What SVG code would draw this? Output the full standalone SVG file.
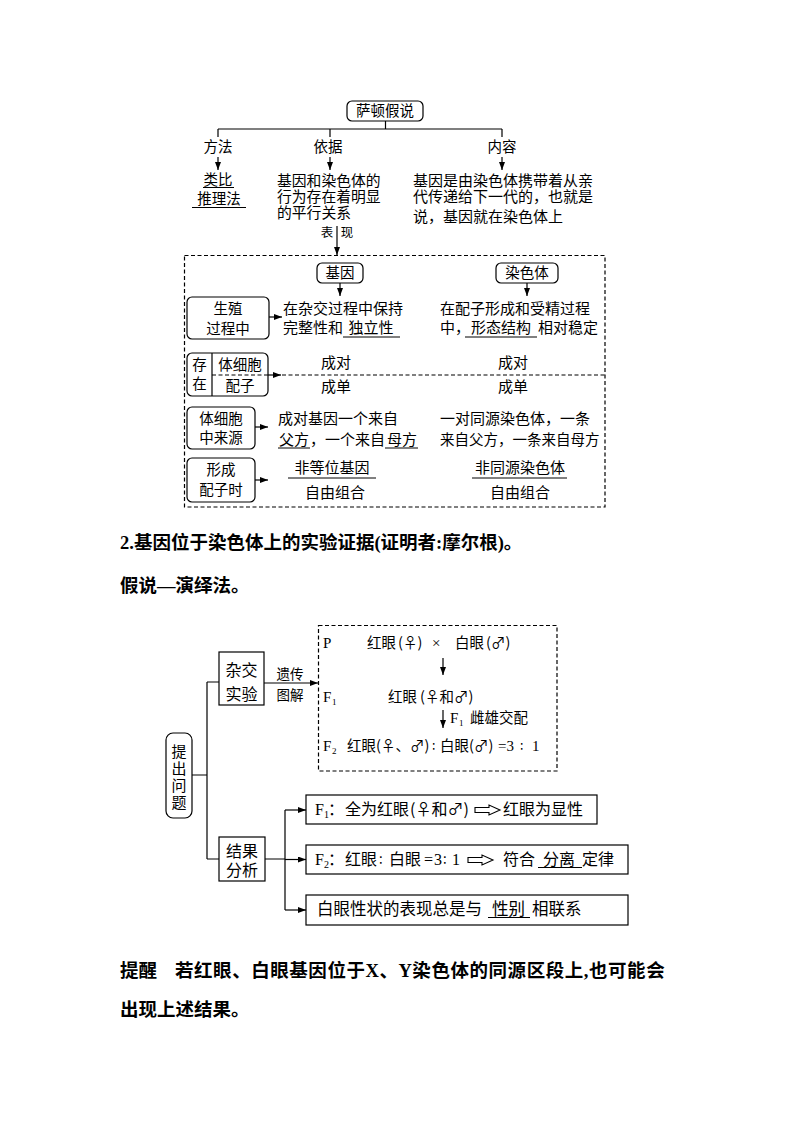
<svg xmlns="http://www.w3.org/2000/svg" width="794" height="1123" viewBox="0 0 794 1123">
<style>
text{font-family:"Noto Sans CJK SC",sans-serif;font-size:15px;fill:#000}
.m{font-family:"Liberation Serif","Noto Sans CJK SC",serif}
.r{font-family:"DejaVu Sans",sans-serif}
.lb{font-size:14.5px}
.c{text-anchor:middle}
.sm{font-size:12.5px}
.b16{font-size:16px}
.hd{font-family:"Liberation Serif","Noto Sans CJK SC",serif;font-weight:bold;font-size:18.5px}
.ln{stroke:#000;stroke-width:1.2;fill:none}
.ar{stroke:#000;stroke-width:1.2;fill:none;marker-end:url(#ah)}
.bx{fill:#fff;stroke:#000;stroke-width:1.2}
.dash{stroke-dasharray:4 2.5}
.ul{stroke:#000;stroke-width:1;fill:none}
.ha{fill:#fff;stroke:#000;stroke-width:1.1}
</style>
<defs>
<marker id="ah" markerUnits="userSpaceOnUse" markerWidth="8" markerHeight="6" refX="8" refY="3" orient="auto">
<path d="M0,0 L8,3 L0,6 Z" fill="#000"/>
</marker>
</defs>
<rect width="794" height="1123" fill="#fff"/>

<g id="connectors">
<path class="ln" d="M385.5,121 V129 M218,129 H502 M218,129 V137 M330,129 V137 M502,129 V137"/>
<path class="ar" d="M218,157 V170"/>
<path class="ar" d="M330,157 V170"/>
<path class="ar" d="M502,157 V170"/>
<path class="ar" d="M337,226 V255"/>
<path class="ar" d="M340,283 V296"/>
<path class="ar" d="M527,283 V296"/>
<path class="ar" d="M269,317 H282"/>
<path class="ar" d="M268,375 H281"/>
<path class="ln dash" d="M282,375 H605"/>
<path class="ar" d="M255,427 H268"/>
<path class="ar" d="M255,480 H268"/>
<path class="ln" d="M192,775 H207 M207,682 V859 M207,682 H219 M207,859 H219"/>
<path class="ar" d="M264,683 H318"/>
<path class="ar" d="M443,658 V675"/>
<path class="ar" d="M443,710 V728"/>
<path class="ln" d="M265,859 H285 M285,810 V910"/>
<path class="ar" d="M285,810 H306"/>
<path class="ar" d="M285,859.5 H306"/>
<path class="ar" d="M285,910 H306"/>
</g>

<g id="n-sadun">
<rect class="bx" x="347" y="101" width="76" height="20" rx="5"/>
<text class="lb c" x="385" y="116">萨顿假说</text>
</g>
<g id="n-fangfa">
<text class="lb c" x="218" y="152">方法</text>
<text class="lb c" x="218" y="185">类比</text>
<path class="ul" d="M203,187.5 H234"/>
<text class="lb c" x="219" y="204">推理法</text>
<path class="ul" d="M192,207.5 H246"/>
</g>
<g id="n-yiju">
<text class="lb c" x="328" y="152">依据</text>
<text x="277" y="186" style="font-size:14.8px">基因和染色体的</text>
<text x="277" y="202" style="font-size:14.8px">行为存在着明显</text>
<text x="277" y="218" style="font-size:14.8px">的平行关系</text>
</g>
<g id="n-neirong">
<text class="lb c" x="502" y="152">内容</text>
<text x="413" y="186">基因是由染色体携带着从亲</text>
<text x="413" y="202">代传递给下一代的，也就是</text>
<text x="413" y="222">说，基因就在染色体上</text>
</g>
<g id="n-biaoxian">
<text class="sm c" x="327" y="237">表</text>
<text class="sm c" x="347" y="237">现</text>
</g>

<g id="n-table">
<rect class="ln dash" x="184.5" y="255.5" width="420.5" height="251.5"/>
<rect class="bx" x="317" y="263" width="46" height="20" rx="5"/>
<text class="lb c" x="340" y="278">基因</text>
<rect class="bx" x="496" y="263" width="62" height="20" rx="5"/>
<text class="lb c" x="527" y="278">染色体</text>
</g>

<g id="n-row1">
<rect class="bx" x="187" y="297" width="82" height="42" rx="5"/>
<text class="lb c" x="228" y="314">生殖</text>
<text class="lb c" x="228" y="334">过程中</text>
<text x="283" y="314">在杂交过程中保持</text>
<text x="283" y="333">完整性和</text>
<text class="c" x="371" y="333">独立性</text>
<path class="ul" d="M343,337 H400"/>
<text x="440" y="314">在配子形成和受精过程</text>
<text x="440" y="333">中，</text>
<text class="c" x="501" y="333">形态结构</text>
<path class="ul" d="M465,337 H537"/>
<text x="538" y="333">相对稳定</text>
</g>

<g id="n-row2">
<rect class="bx" x="187" y="353" width="81" height="43" rx="5"/>
<path class="ln" d="M212,353 V396"/>
<path class="ln dash" d="M212,375 H268"/>
<text class="lb c" x="199.5" y="370">存</text>
<text class="lb c" x="199.5" y="389">在</text>
<text class="lb c" x="240" y="370">体细胞</text>
<text class="lb c" x="240" y="391">配子</text>
<text class="c" x="336" y="368">成对</text>
<text class="c" x="513" y="368">成对</text>
<text class="c" x="336" y="392">成单</text>
<text class="c" x="513" y="392">成单</text>
</g>

<g id="n-row3">
<rect class="bx" x="187" y="407" width="68" height="42" rx="5"/>
<text class="lb c" x="221" y="424">体细胞</text>
<text class="lb c" x="221" y="443">中来源</text>
<text x="278" y="424">成对基因一个来自</text>
<text x="279" y="445">父方</text>
<path class="ul" d="M278,448 H310"/>
<text x="310" y="445">，一个来自</text>
<text x="387" y="445">母方</text>
<path class="ul" d="M385,448 H418"/>
<text x="440" y="424">一对同源染色体，一条</text>
<text x="440" y="445" style="font-size:14.5px">来自父方，一条来自母方</text>
</g>

<g id="n-row4">
<rect class="bx" x="187" y="458" width="68" height="44" rx="5"/>
<text class="lb c" x="221" y="475">形成</text>
<text class="lb c" x="221" y="495">配子时</text>
<text class="c" x="332" y="473">非等位基因</text>
<path class="ul" d="M288,478 H376"/>
<text class="c" x="335" y="498">自由组合</text>
<text class="c" x="520" y="473">非同源染色体</text>
<path class="ul" d="M472,478 H567"/>
<text class="c" x="520" y="498">自由组合</text>
</g>

<g id="n-heading">
<text class="hd" x="120" y="549">2.基因位于染色体上的实验证据(证明者:摩尔根)。</text>
<text class="hd" x="120" y="592">假说—演绎法。</text>
</g>

<g id="n-tichu">
<rect class="bx" x="166" y="733" width="26" height="85" rx="7"/>
<text class="c" x="179" y="757">提</text>
<text class="c" x="179" y="774">出</text>
<text class="c" x="179" y="791">问</text>
<text class="c" x="179" y="808">题</text>
</g>

<g id="n-zajiao">
<rect class="bx" x="219" y="652" width="45" height="53"/>
<text class="b16 c" x="241.5" y="676">杂交</text>
<text class="b16 c" x="241.5" y="700">实验</text>
<text class="c" x="290" y="679" style="font-size:13.5px">遗传</text>
<text class="c" x="290" y="700" style="font-size:13.5px">图解</text>
</g>

<g id="n-tujie">
<rect class="ln dash" x="318.5" y="625.5" width="238.5" height="145.5"/>
<text class="m" x="323" y="648" style="font-size:15px">P</text>
<text x="367" y="648" style="font-size:14.5px">红眼</text>
<text x="398" y="648" style="font-size:14.5px">(♀)</text>
<text class="m" x="432" y="648" style="font-size:15px">×</text>
<text x="455" y="648" style="font-size:14.5px">白眼</text>
<text x="486" y="648" style="font-size:14.5px">(♂)</text>
<text class="m" x="323" y="702" style="font-size:15px">F</text>
<text class="m" x="332" y="705" style="font-size:9px">1</text>
<text x="388" y="702" style="font-size:14.5px">红眼</text>
<text x="420" y="702" style="font-size:14.5px">(♀和♂)</text>
<text class="m" x="450" y="723" style="font-size:15px">F</text>
<text class="m" x="459" y="726" style="font-size:9px">1</text>
<text x="470" y="723" style="font-size:14.5px">雌雄交配</text>
<text class="m" x="323" y="751" style="font-size:15px">F</text>
<text class="m" x="332" y="754" style="font-size:9px">2</text>
<text x="347" y="751" style="font-size:14.5px">红眼</text>
<text x="376" y="751" style="font-size:14.5px">(♀、♂)</text>
<text class="r" x="432" y="751" style="font-size:13px">∶</text>
<text x="440" y="751" style="font-size:14.5px">白眼</text>
<text x="469" y="751" style="font-size:14.5px">(♂)</text>
<text class="m" x="498" y="751" style="font-size:15px">=3</text>
<text class="r" x="520" y="751" style="font-size:13px">∶</text>
<text class="m" x="532" y="751" style="font-size:15px">1</text>
</g>

<g id="n-jieguo">
<rect class="bx" x="219" y="837" width="46" height="44"/>
<text class="b16 c" x="242" y="857">结果</text>
<text class="b16 c" x="242" y="876">分析</text>
</g>

<g id="n-f1">
<rect class="bx" x="306" y="795" width="291" height="29"/>
<text class="m b16" x="315" y="815">F</text>
<text class="m" x="324" y="818" style="font-size:10px">1</text>
<text class="b16" x="328" y="815">：</text>
<text class="b16" x="345" y="815">全为红眼</text>
<text class="b16" x="410" y="815">(♀和♂)</text>
<path class="ha" d="M475,807.5 H489 V805 L500,810 L489,815 V812.5 H475 Z"/>
<text class="b16" x="503" y="815">红眼为显性</text>
</g>

<g id="n-f2">
<rect class="bx" x="306" y="845" width="322" height="29"/>
<text class="m b16" x="315" y="865">F</text>
<text class="m" x="324" y="868" style="font-size:10px">2</text>
<text class="b16" x="328" y="865">：</text>
<text class="b16" x="345" y="865">红眼</text>
<text class="r" x="379" y="865" style="font-size:14px">∶</text>
<text class="b16" x="389" y="865">白眼</text>
<text class="m b16" x="424" y="865">=</text>
<text class="m b16" x="434" y="865">3</text>
<text class="r" x="443" y="865" style="font-size:14px">∶</text>
<text class="m b16" x="452" y="865">1</text>
<path class="ha" d="M468,857.5 H482 V855 L493,860 L482,865 V862.5 H468 Z"/>
<text class="b16" x="503" y="865">符合</text>
<text class="b16" x="543" y="865">分离</text>
<path class="ul" d="M538,867.5 H582"/>
<text class="b16" x="582" y="865">定律</text>
</g>

<g id="n-f3">
<rect class="bx" x="306" y="895" width="322" height="30"/>
<text x="317" y="915" style="font-size:16.5px">白眼性状的表现总是与</text>
<text x="492" y="915" style="font-size:16.5px">性别</text>
<path class="ul" d="M488,917.5 H530"/>
<text x="532" y="915" style="font-size:16.5px">相联系</text>
</g>

<g id="n-tip">
<text class="hd" x="120" y="977">提醒</text>
<text class="hd" x="175" y="977" style="letter-spacing:0.55px">若红眼、白眼基因位于X、Y染色体的同源区段上,也可能会</text>
<text class="hd" x="120" y="1016">出现上述结果。</text>
</g>
</svg>
